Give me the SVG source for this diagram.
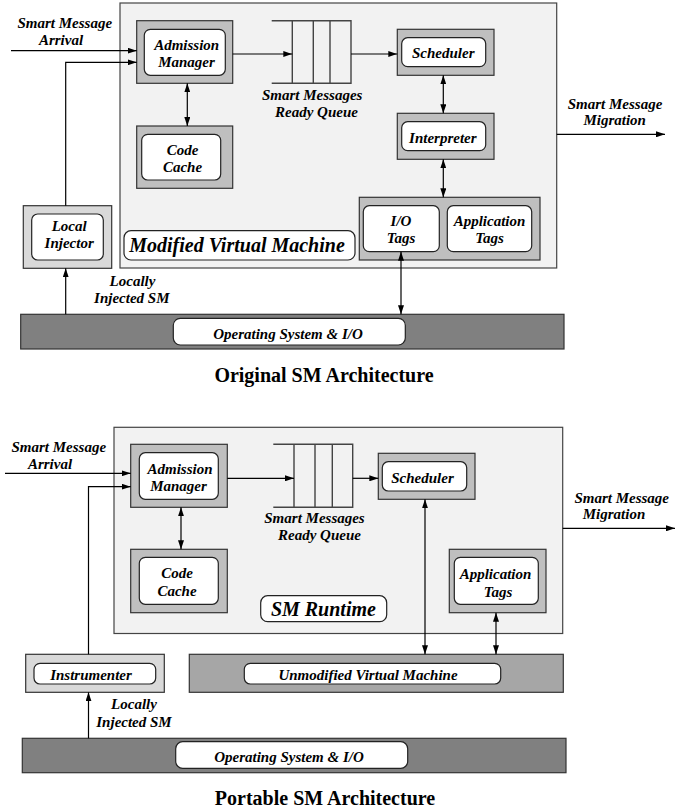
<svg xmlns="http://www.w3.org/2000/svg" width="688" height="810" viewBox="0 0 688 810" font-family="'Liberation Serif', 'Times New Roman', Times, serif">
<defs>
<marker id="ah" markerUnits="userSpaceOnUse" markerWidth="9" markerHeight="6" refX="9" refY="3" orient="auto-start-reverse">
<path d="M0,0 L9,3 L0,6 z" fill="#000"/>
</marker>
<style>
.vm{fill:#f2f2f2;stroke:#444;stroke-width:1.2}
.mod{fill:#bfbfbf;stroke:#333;stroke-width:1.2}
.lt{fill:#d9d9d9;stroke:#333;stroke-width:1.2}
.uvm{fill:#a6a6a6;stroke:#333;stroke-width:1.2}
.os{fill:#808080;stroke:#333;stroke-width:1.2}
.in{fill:#fff;stroke:#222;stroke-width:1.2}
.q{fill:none;stroke:#444;stroke-width:1.4}
text{font-family:'Liberation Serif','Times New Roman',Times,serif}
.t{font-weight:bold;font-style:italic;font-size:15px;fill:#000;text-anchor:middle}
.big{font-size:20px}
.title{font-weight:bold;font-size:20px;fill:#000;text-anchor:middle}
.c{fill:none;stroke:#000;stroke-width:1.2}
.a{marker-end:url(#ah)}
.d{marker-start:url(#ah);marker-end:url(#ah)}
</style>
</defs>

<!-- ===== Top: Original SM Architecture ===== -->
<g id="top-vm"><rect class="vm" x="120" y="3" width="436.7" height="265"/></g>
<g id="top-mvm-label"><rect class="in" x="124" y="230.7" width="231" height="29.3" rx="7"/><text class="t big" x="237" y="251.7">Modified Virtual Machine</text></g>
<g id="top-admission"><rect class="mod" x="136.7" y="20.7" width="96" height="62.6"/><rect class="in" x="144.3" y="29.3" width="81" height="46" rx="6"/><text class="t" x="186.7" y="50">Admission</text><text class="t" x="186.5" y="66.7">Manager</text></g>
<g id="top-codecache"><rect class="mod" x="136.7" y="126" width="96" height="62.3"/><rect class="in" x="141.7" y="134.3" width="79" height="45.7" rx="6"/><text class="t" x="182.5" y="155">Code</text><text class="t" x="182.5" y="171.7">Cache</text></g>
<g id="top-queue"><path class="q" d="M271.7,20.7 H351 V83.3 H271.7 M292.3,20.7 V83.3 M313.3,20.7 V83.3 M330,20.7 V83.3"/></g>
<g id="top-queue-label"><text class="t" x="312.2" y="100">Smart Messages</text><text class="t" x="316.5" y="116.7">Ready Queue</text></g>
<g id="top-scheduler"><rect class="mod" x="397.3" y="29.3" width="96.7" height="46"/><rect class="in" x="401.7" y="37.7" width="84" height="29" rx="6"/><text class="t" x="443.3" y="58.3">Scheduler</text></g>
<g id="top-interpreter"><rect class="mod" x="397.3" y="113.3" width="96.7" height="46"/><rect class="in" x="401.7" y="121.7" width="84" height="29" rx="6"/><text class="t" x="442.8" y="142.7">Interpreter</text></g>
<g id="top-tags"><rect class="mod" x="359.3" y="197.3" width="180.7" height="62.7"/><rect class="in" x="363.3" y="205.7" width="76" height="46" rx="6"/><text class="t" x="401" y="225.7">I/O</text><text class="t" x="401" y="243.3">Tags</text><rect class="in" x="447.3" y="205.7" width="84.4" height="46" rx="6"/><text class="t" x="489.5" y="225.7">Application</text><text class="t" x="489.5" y="243.3">Tags</text></g>
<g id="top-injector"><rect class="lt" x="23.3" y="205.7" width="88.4" height="62.6"/><rect class="in" x="31.7" y="214" width="71.6" height="46" rx="6"/><text class="t" x="69.2" y="230.7">Local</text><text class="t" x="69.2" y="248.3">Injector</text></g>
<g id="top-os"><rect class="os" x="20.7" y="314.3" width="543.3" height="34.7"/><rect class="in" x="173.3" y="318.3" width="232" height="26.7" rx="7"/><text class="t" x="288" y="339.3">Operating System &amp; I/O</text></g>
<g id="top-labels">
<text class="t" x="64.8" y="28.3">Smart Message</text><text class="t" x="61" y="45">Arrival</text>
<text class="t" x="615" y="109">Smart Message</text><text class="t" x="614.7" y="125">Migration</text>
<text class="t" x="132.5" y="286">Locally</text><text class="t" x="131.8" y="302.7">Injected SM</text>
<text class="title" x="324" y="381.7">Original SM Architecture</text>
</g>
<g id="top-connectors">
<path class="c a" d="M11,50.7 H136.7"/>
<path class="c a" d="M65.7,205.7 V62.3 H136.7"/>
<path class="c a" d="M232.7,54 H292.3"/>
<path class="c a" d="M351,54 H397.3"/>
<path class="c d" d="M187.3,83.3 V126"/>
<path class="c d" d="M443.3,75.3 V113.3"/>
<path class="c d" d="M443.3,159.3 V197.3"/>
<path class="c d" d="M401,251.7 V314.3"/>
<path class="c a" d="M65.7,314.3 V268.3"/>
<path class="c a" d="M556.7,134.3 H665"/>
</g>

<!-- ===== Bottom: Portable SM Architecture ===== -->
<g id="bot-runtime"><rect class="vm" x="114" y="427.3" width="448.7" height="206.2"/></g>
<g id="bot-smrt-label"><rect class="in" x="260.7" y="595.7" width="126" height="26" rx="7"/><text class="t big" x="323.4" y="616">SM Runtime</text></g>
<g id="bot-admission"><rect class="mod" x="130.7" y="444.3" width="96.6" height="63"/><rect class="in" x="139.3" y="452.7" width="79" height="46.6" rx="6"/><text class="t" x="180" y="474">Admission</text><text class="t" x="178.5" y="490.7">Manager</text></g>
<g id="bot-codecache"><rect class="mod" x="130.7" y="549.3" width="96.6" height="63.4"/><rect class="in" x="139.3" y="557.3" width="79" height="47" rx="6"/><text class="t" x="177.2" y="578.3">Code</text><text class="t" x="177" y="595.7">Cache</text></g>
<g id="bot-queue"><path class="q" d="M273.3,444.3 H352.7 V507.3 H273.3 M294,444.3 V507.3 M315,444.3 V507.3 M332.3,444.3 V507.3"/></g>
<g id="bot-queue-label"><text class="t" x="314.5" y="523.3">Smart Messages</text><text class="t" x="319.5" y="540">Ready Queue</text></g>
<g id="bot-scheduler"><rect class="mod" x="378.3" y="453.3" width="96.7" height="46"/><rect class="in" x="382.3" y="461.7" width="84.4" height="29.3" rx="6"/><text class="t" x="422.5" y="483.3">Scheduler</text></g>
<g id="bot-apptags"><rect class="mod" x="449.3" y="549.3" width="96.7" height="63.4"/><rect class="in" x="454.3" y="557.3" width="84" height="47" rx="6"/><text class="t" x="495.5" y="579">Application</text><text class="t" x="498" y="596.7">Tags</text></g>
<g id="bot-instrumenter"><rect class="lt" x="25.7" y="654.3" width="138.6" height="38"/><rect class="in" x="34" y="663.3" width="121.7" height="20.7" rx="6"/><text class="t" x="91" y="680">Instrumenter</text></g>
<g id="bot-uvm"><rect class="uvm" x="189.3" y="654.3" width="374" height="38"/><rect class="in" x="244.3" y="663.3" width="256.4" height="20.7" rx="6"/><text class="t" x="368" y="680">Unmodified Virtual Machine</text></g>
<g id="bot-os"><rect class="os" x="22.3" y="738.3" width="543.7" height="34.4"/><rect class="in" x="175.7" y="741.7" width="232" height="26.6" rx="7"/><text class="t" x="289" y="762.3">Operating System &amp; I/O</text></g>
<g id="bot-labels">
<text class="t" x="58.8" y="452.3">Smart Message</text><text class="t" x="50" y="469">Arrival</text>
<text class="t" x="621.7" y="503.3">Smart Message</text><text class="t" x="614" y="519">Migration</text>
<text class="t" x="134" y="709">Locally</text><text class="t" x="134" y="726.7">Injected SM</text>
<text class="title" x="325" y="805">Portable SM Architecture</text>
</g>
<g id="bot-connectors">
<path class="c a" d="M5,473.3 H130.7"/>
<path class="c a" d="M88.5,654.3 V486.7 H130.7"/>
<path class="c a" d="M227.3,478.3 H294"/>
<path class="c a" d="M352.7,478.3 H378.3"/>
<path class="c d" d="M181,507.3 V549.3"/>
<path class="c d" d="M425,499.3 V654.3"/>
<path class="c d" d="M496,612.7 V654.3"/>
<path class="c a" d="M88.5,738.3 V692.3"/>
<path class="c a" d="M562.7,528.3 H675"/>
</g>
</svg>
